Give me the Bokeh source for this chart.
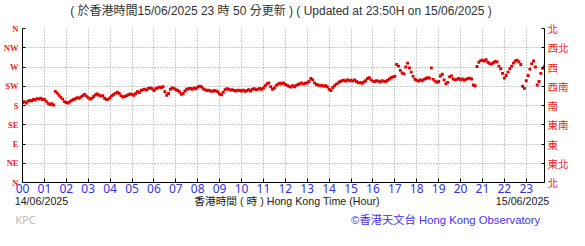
from bokeh.plotting import figure
from bokeh.models import LinearAxis, Range1d, FixedTicker, ColumnDataSource
from bokeh.embed import file_html
from bokeh.resources import INLINE

hour_labels = ["%02d" % h for h in range(24)]
dir_ticks = [0, 45, 90, 135, 180, 225, 270, 315, 360]
dir_labels_en = ["N", "NE", "E", "SE", "S", "SW", "W", "NW", "N"]
dir_labels_zh = ["北", "東北", "東", "東南", "南", "西南", "西", "西北", "北"]

# 5-minute readings, 00:00 .. 23:55 (minutes after midnight)
minutes = list(range(0, 1440, 5))
direction_deg = [
    187, 189, 186, 190, 192, 191, 194, 193, 196, 195, 197, 194,   # 00
    195, 190, 185, 182, 184, 181, 213, 209, 204, 199, 195, 189,   # 01
    187, 186, 189, 192, 194, 196, 198, 197, 200, 203, 206, 202,   # 02
    198, 195, 197, 201, 205, 207, 204, 202, 203, 197, 194, 195,   # 03
    198, 203, 206, 209, 211, 208, 203, 200, 201, 203, 205, 207,   # 04
    206, 204, 208, 212, 210, 215, 217, 218, 216, 220, 221, 219,   # 05
    215, 219, 221, 223, 222, 224, 212, 204, 208, 218, 221, 220,   # 06
    217, 215, 212, 206, 208, 214, 218, 219, 220, 218, 221, 219,   # 07
    223, 225, 224, 219, 217, 215, 216, 214, 213, 215, 214, 212,   # 08
    207, 205, 211, 217, 219, 218, 216, 217, 215, 214, 216, 215,   # 09
    214, 216, 213, 215, 217, 214, 218, 219, 217, 218, 220, 218,   # 10
    221, 226, 231, 233, 224, 218, 221, 227, 230, 232, 231, 233,   # 11
    229, 227, 225, 223, 226, 224, 227, 229, 231, 233, 230, 232,   # 12
    233, 236, 243, 240, 233, 229, 228, 226, 227, 225, 226, 224,   # 13
    218, 215, 222, 226, 230, 233, 236, 238, 239, 237, 240, 238,   # 14
    239, 237, 240, 236, 233, 234, 232, 235, 238, 243, 245, 240,   # 15
    237, 236, 238, 237, 235, 238, 237, 236, 239, 242, 245, 247,   # 16
    248, 276, 272, 262, 256, 254, 270, 279, 268, 258, 248, 241,   # 17
    239, 237, 240, 238, 241, 243, 245, 244, 268, 241, 237, 234,   # 18
    236, 249, 253, 240, 231, 234, 247, 249, 242, 240, 241, 243,   # 19
    240, 242, 239, 241, 243, 244, 242, 228, 226, 271, 281, 285,   # 20
    286, 284, 287, 281, 278, 277, 280, 283, 282, 272, 266, 255,   # 21
    244, 250, 258, 266, 272, 279, 284, 286, 282, 276, 225, 220,   # 22
    238, 250, 265, 278, 284, 270, 228, 236, 255, 267, 272, 274,   # 23
]

title_text = "( 於香港時間15/06/2025 23 時 50 分更新 ) ( Updated at 23:50H on 15/06/2025 )"
x_title = "香港時間 ( 時 ) Hong Kong Time (Hour)"
start_date = "14/06/2025"
end_date = "15/06/2025"
credit = "©香港天文台 Hong Kong Observatory"
station = "KPC"

W, H = 585, 246
BL, BR, BT, BB = 21, 41, 27, 64
FW = W - BL - BR
MIXED = "Liberation Sans, Noto Sans CJK TC"
src = ColumnDataSource(dict(hour=[m / 60 for m in minutes], deg=direction_deg))

p = figure(width=W, height=H, output_backend="svg", toolbar_location=None,
           x_range=Range1d(0, 23 + 50 / 60), y_range=Range1d(0, 360),
           min_border_left=BL, min_border_right=BR, min_border_top=BT,
           min_border_bottom=BB, outline_line_color=None,
           background_fill_color="white", border_fill_color="white")
# pixel-position range used to place the caption rows around the chart
p.extra_x_ranges = {"px": Range1d(0, FW)}

p.scatter("hour", "deg", source=src, marker="square", size=2.9,
          color="#e00000", line_width=0)

red = "#ee2222"
blue = "#3333ee"

# x axis
xa = p.xaxis[0]
xa.ticker = FixedTicker(ticks=list(range(24)))
xa.major_label_overrides = {i: hour_labels[i] for i in range(24)}
xa.major_label_text_color = blue
xa.major_label_text_font = "Noto Sans"
xa.major_label_text_font_size = "12px"
xa.major_label_standoff = 1
xa.major_tick_in = 4
xa.major_tick_out = 0
xa.minor_tick_line_color = None
xa.axis_line_color = "black"
xa.major_tick_line_color = "black"

def caption_axis(labels, centers, color, size, standoff, font=MIXED, side="below"):
    ax = LinearAxis(x_range_name="px", ticker=FixedTicker(ticks=[c - BL for c in centers]))
    ax.major_label_overrides = {c - BL: t for c, t in zip(centers, labels)}
    ax.major_label_text_color = color
    ax.major_label_text_font = font
    ax.major_label_text_font_size = size
    ax.major_label_standoff = standoff
    ax.axis_line_color = None
    ax.major_tick_line_color = None
    ax.minor_tick_line_color = None
    ax.major_tick_in = 0
    ax.major_tick_out = 0
    p.add_layout(ax, side)

caption_axis([title_text], [280], "#333333", "12px", 11, side="above")
caption_axis([start_date, x_title, end_date], [40, 286, 522], "#222222", "10.7px", -1)
caption_axis([credit], [445], "#4433ee", "11.3px", 4)
caption_axis([station], [24], "#bbbbbb", "11px", -17, font="Noto Sans")

# left y axis
ya = p.yaxis[0]
ya.ticker = FixedTicker(ticks=dir_ticks)
ya.major_label_overrides = {t: l for t, l in zip(dir_ticks, dir_labels_en)}
ya.major_label_text_color = red
ya.major_label_text_font = "Liberation Serif"
ya.major_label_text_font_style = "bold"
ya.major_label_text_font_size = "8.5px"
ya.major_label_standoff = 4
ya.major_tick_in = 3
ya.major_tick_out = 0
ya.minor_tick_line_color = None

# right y axis
ra = LinearAxis(ticker=FixedTicker(ticks=dir_ticks))
ra.major_label_overrides = {t: l for t, l in zip(dir_ticks, dir_labels_zh)}
ra.major_label_text_color = red
ra.major_label_text_font = "Noto Sans CJK TC"
ra.major_label_text_font_size = "10.5px"
ra.major_label_standoff = 3
ra.major_tick_in = 3
ra.major_tick_out = 0
ra.minor_tick_line_color = None
p.add_layout(ra, "right")

for g in (p.xgrid[0], p.ygrid[0]):
    g.grid_line_color = "#999999"
    g.grid_line_dash = "1 2"
    g.grid_line_width = 1
p.xgrid[0].ticker = FixedTicker(ticks=list(range(24)))
p.ygrid[0].ticker = FixedTicker(ticks=dir_ticks)

open("out.html", "w").write(file_html(p, INLINE))
